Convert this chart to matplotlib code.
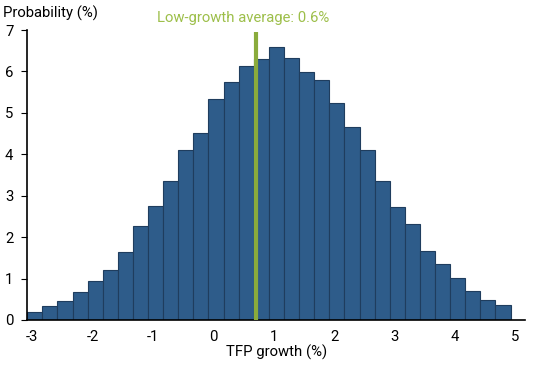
import numpy as np
import matplotlib
matplotlib.use("Agg")
import matplotlib.pyplot as plt

plt.rcParams['font.family'] = ['Roboto', 'DejaVu Sans']

# histogram bins (left edges, % TFP growth) and probabilities (%)
bin_left = np.arange(32) * 0.25 - 3.08
bin_width = 0.25
probability = [0.19, 0.33, 0.45, 0.67, 0.93, 1.20, 1.63, 2.26, 2.74, 3.35,
               4.10, 4.51, 5.33, 5.74, 6.12, 6.29, 6.58, 6.32, 5.99, 5.79,
               5.23, 4.65, 4.10, 3.36, 2.72, 2.32, 1.67, 1.34, 1.01, 0.70,
               0.48, 0.35]
low_growth_avg = 0.7
avg_label = "Low-growth average: 0.6%"
x_ticks = [-3, -2, -1, 0, 1, 2, 3, 4, 5]
y_ticks = [0, 1, 2, 3, 4, 5, 6, 7]

fs = 10.7

fig = plt.figure(figsize=(5.5, 3.65), dpi=100)
ax = fig.add_axes([0.0496, 0.1233, 0.905, 0.7945])

ax.bar(bin_left, probability, width=bin_width, align='edge',
       color='#2e5c8a', edgecolor='#1f3d5e', linewidth=0.8, zorder=2)
ax.plot([low_growth_avg, low_growth_avg], [0, 6.95], color='#8aab3c',
        linewidth=3, solid_capstyle='butt', zorder=3)
ax.text(low_growth_avg - 0.2, 7.3, avg_label, color='#9dbf4a',
        fontsize=fs, ha='center', va='center', clip_on=False)

ax.set_xlim(-3.08, 5.16)
ax.set_ylim(0, 7)
ax.set_xticks(x_ticks)
ax.set_xticklabels([str(t) for t in x_ticks])
ax.set_yticks(y_ticks)
ax.tick_params(axis='x', length=0, pad=7, labelsize=fs)
ax.tick_params(axis='y', length=4, pad=6, labelsize=fs)
for s in ['top', 'right']:
    ax.spines[s].set_visible(False)
ax.spines['left'].set_linewidth(1.2)
ax.spines['bottom'].set_linewidth(1.2)

ax.set_xlabel("TFP growth (%)", fontsize=fs, labelpad=1)
fig.text(0.005, 0.963, "Probability (%)", fontsize=fs, ha='left', va='center')

fig.savefig("out.png", dpi=100)
